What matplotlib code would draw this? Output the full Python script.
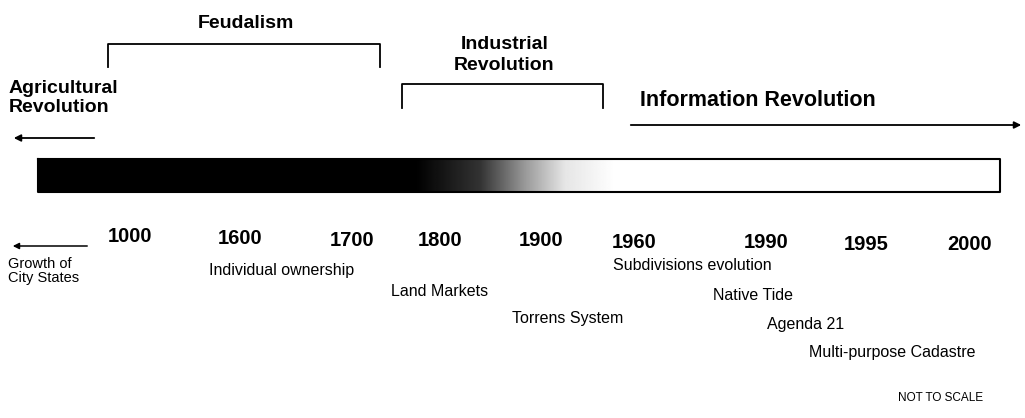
import numpy as np
import matplotlib.pyplot as plt

# timeline years along the bar and where they sit (pixel coords of the 1025x418 canvas)
years = ['1000', '1600', '1700', '1800', '1900', '1960', '1990', '1995', '2000']
year_x = [130, 240, 352, 440, 541, 634, 766, 866, 970]
year_y = [237, 239, 240, 241, 241, 242, 243, 245, 245]

# events written below the years
events = ['Individual ownership', 'Land Markets', 'Torrens System',
          'Subdivisions evolution', 'Native Tide', 'Agenda 21',
          'Multi-purpose Cadastre']
event_x = [209, 391, 512, 613, 713, 767, 809]
event_y = [270, 291, 319, 266, 296, 324, 352]

# era brackets
eras = ['Feudalism', 'Industrial\nRevolution']
era_left = [108, 402]
era_right = [380, 603]
era_top = [44, 84]
era_bottom = [67, 108]
era_label_y = [23, 55]

plt.rcParams['font.family'] = ['Liberation Sans', 'DejaVu Sans']

fig = plt.figure(figsize=(10.25, 4.18), dpi=100)
ax = fig.add_axes([0, 0, 1, 1])
ax.set_xlim(0, 1025)
ax.set_ylim(418, 0)
ax.axis('off')

# bar: black on the left, fading to white past the industrial revolution
bar_l, bar_r, bar_t, bar_b = 38, 1000, 159, 192
xs = np.linspace(bar_l, bar_r, 800)
shade = np.interp(xs, [415, 480, 525, 565, 615], [0, 0.2, 0.6, 0.9, 1])
img = np.tile(shade, (20, 1))
ax.imshow(img, cmap='gray', vmin=0, vmax=1, aspect='auto',
          extent=[bar_l, bar_r, bar_b, bar_t], interpolation='bilinear', zorder=1)
ax.plot([bar_l, bar_r, bar_r, bar_l, bar_l], [bar_t, bar_t, bar_b, bar_b, bar_t],
        color='black', lw=1.5, zorder=2)

for lab, x, y in zip(years, year_x, year_y):
    ax.text(x, y, lab, ha='center', va='center', fontsize=14.5, fontweight='bold')

for lab, x, y in zip(events, event_x, event_y):
    ax.text(x, y, lab, ha='left', va='center', fontsize=11.5)

for lab, l, r, t, b, ly in zip(eras, era_left, era_right, era_top, era_bottom, era_label_y):
    ax.plot([l, l, r, r], [b, t, t, b], color='black', lw=1.3)
    ax.text((l + r) / 2 + 2, ly, lab, ha='center', va='center', fontsize=14,
            fontweight='bold', linespacing=1.25)

ax.text(9, 98, 'Agricultural\nRevolution', ha='left', va='center', fontsize=14,
        fontweight='bold', linespacing=1.2)
ax.annotate('', xy=(11, 138), xytext=(97, 138),
            arrowprops=dict(arrowstyle='-|>', color='black', lw=1.3, mutation_scale=10))

ax.text(758, 100, 'Information Revolution', ha='center', va='center', fontsize=15.5,
        fontweight='bold')
ax.annotate('', xy=(1024, 125), xytext=(628, 125),
            arrowprops=dict(arrowstyle='-|>', color='black', lw=1.3, mutation_scale=10))

ax.annotate('', xy=(10, 246), xytext=(90, 246),
            arrowprops=dict(arrowstyle='-|>', color='black', lw=1.1, mutation_scale=9))
ax.text(8, 271, 'Growth of\nCity States', ha='left', va='center', fontsize=10.5,
        linespacing=1.0)

ax.text(941, 398, 'NOT TO SCALE', ha='center', va='center', fontsize=8.5)

fig.savefig('out.png', dpi=100)
